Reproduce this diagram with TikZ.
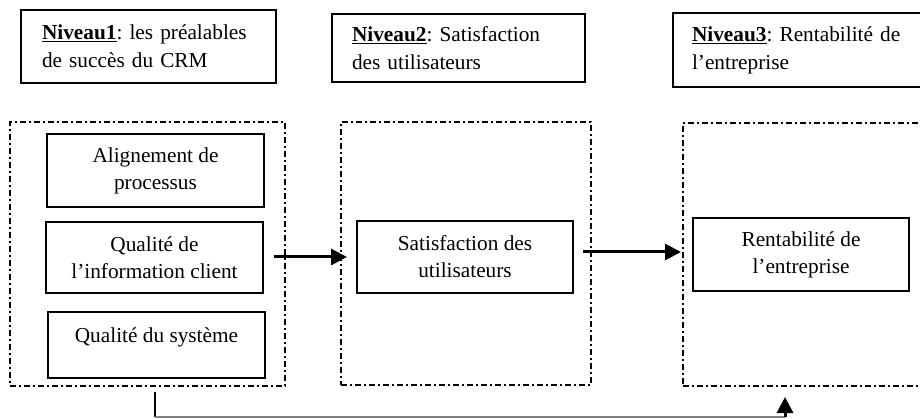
\documentclass[tikz,border=0pt]{standalone}
\usepackage{fontspec}
\setmainfont{Liberation Serif}
\usetikzlibrary{arrows.meta}
\frenchspacing
\tikzset{
  lvlbox/.style={draw, line width=2pt, inner sep=0pt, outer sep=0pt, align=left,
    font=\fontsize{21.3}{28}\selectfont},
  inbox/.style={draw, line width=2pt, inner sep=0pt, outer sep=0pt, align=center,
    font=\fontsize{21.3}{27}\selectfont},
  frame/.style={draw, line width=2.6pt, inner sep=0pt, outer sep=0pt,
    dash pattern=on 6pt off 3pt on 2pt off 3pt},
  conn/.style={line width=3pt, -{Triangle[length=16pt,width=16pt]}},
}
\begin{document}
\begin{tikzpicture}[x=1pt,y=-1pt]
\useasboundingbox (0,0) rectangle (920,419);
\clip (0,0) rectangle (920,419);
% level boxes
\node[lvlbox, minimum width=255, minimum height=73, text width=213] (L1) at (148.5,46.5)
  {\mbox{\underline{\textbf{Niveau1}}: les préalables}\\de succès du CRM};
\node[lvlbox, minimum width=253, minimum height=68, text width=213] (L2) at (458.5,48)
  {\mbox{\underline{\textbf{Niveau2}}: Satisfaction}\\des utilisateurs};
\node[lvlbox, minimum width=249, minimum height=74, text width=211] (L3) at (797.5,50)
  {\mbox{\underline{\textbf{Niveau3}}: Rentabilité de}\\l’entreprise};
% dashed frames
\node[frame, minimum width=275, minimum height=264] (F1) at (147.5,254) {};
\node[frame, minimum width=250, minimum height=263] (F2) at (466,253.5) {};
\node[frame, minimum width=245, minimum height=263] (F3) at (805.5,254.5) {};
% inner boxes
\node[inbox, minimum width=217, minimum height=73] (A) at (155.5,170.5) {Alignement de\\processus};
\node[inbox, minimum width=217, minimum height=71] (Q) at (154.5,257.5) {Qualité de\\l’information client};
\node[inbox, minimum width=217, minimum height=66] (S) at (156.5,345) {\raisebox{8pt}[\height][\depth]{Qualité du système}};
\node[inbox, minimum width=216, minimum height=72] (Sat) at (465,257) {Satisfaction des\\utilisateurs};
\node[inbox, minimum width=216, minimum height=73] (Ren) at (801,254.5) {Rentabilité de\\l’entreprise};
% connectors
\coordinate (a1s) at (274,257);
\coordinate (a1e) at (347,257);
\coordinate (a2s) at (583,252);
\coordinate (a2e) at (681,252);
\draw[conn] (a1s) -- (a1e);
\draw[conn] (a2s) -- (a2e);
\coordinate (b1) at (155,392);
\coordinate (b2) at (155,417);
\coordinate (b3) at (785,417);
\coordinate (b4) at (785,397);
\draw[line width=1.5pt] (b1) -- (b2);
\draw[line width=1.8pt, gray] (b2) -- (b3);
\draw[conn] (b3) -- (b4);
\end{tikzpicture}
\end{document}
